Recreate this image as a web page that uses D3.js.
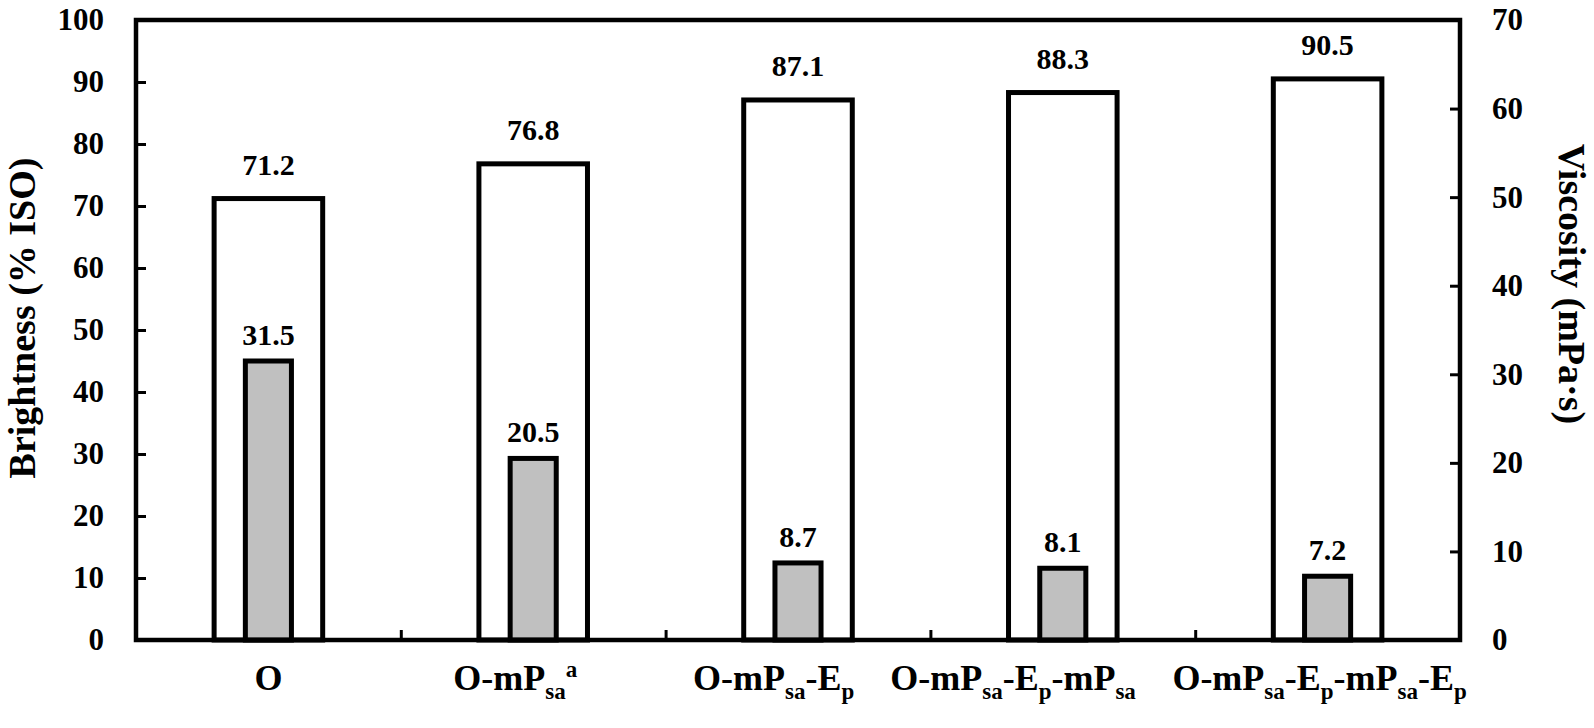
<!DOCTYPE html>
<html>
<head>
<meta charset="utf-8">
<script src="https://cdn.jsdelivr.net/npm/d3@7"></script>
<style>
  body { margin: 0; background: #fff; }
  svg { display: block; }
  text { font-family: "Liberation Serif", "Times New Roman", serif; font-weight: bold; fill: #000; }
</style>
</head>
<body>
<div id="chart"></div>
<script>
// data
var categories = ["O", "O-mP_sa^a", "O-mP_sa-E_p", "O-mP_sa-E_p-mP_sa", "O-mP_sa-E_p-mP_sa-E_p"];
var brightness = [71.2, 76.8, 87.1, 88.3, 90.5];   // left axis, white bars
var viscosity = [31.5, 20.5, 8.7, 8.1, 7.2];        // right axis, grey bars
var leftTicks = [0, 10, 20, 30, 40, 50, 60, 70, 80, 90, 100];
var rightTicks = [0, 10, 20, 30, 40, 50, 60, 70];

var width = 1594, height = 728;
var plotL = 136, plotR = 1460, plotT = 20, plotB = 640;

var svg = d3.select("#chart").append("svg")
    .attr("width", width)
    .attr("height", height);

var x = d3.scaleBand().domain(categories).range([plotL, plotR]).padding(0);
var xEdge = d3.scaleLinear().domain([0, categories.length]).range([plotL, plotR]);
var yL = d3.scaleLinear().domain([0, 100]).range([plotB, plotT]);
var yR = d3.scaleLinear().domain([0, 70]).range([plotB, plotT]);

var bw = x.bandwidth();
var wWhite = bw * 0.41, wGrey = bw * 0.174;

// white bars (brightness)
svg.append("g").selectAll("rect")
    .data(brightness)
    .enter().append("rect")
    .attr("x", function(d, i) { return x(categories[i]) + bw / 2 - wWhite / 2; })
    .attr("y", function(d) { return yL(d); })
    .attr("width", wWhite)
    .attr("height", function(d) { return yL(0) - yL(d); })
    .attr("fill", "#fff")
    .attr("stroke", "#000")
    .attr("stroke-width", 5);

// grey bars (viscosity)
svg.append("g").selectAll("rect")
    .data(viscosity)
    .enter().append("rect")
    .attr("x", function(d, i) { return x(categories[i]) + bw / 2 - wGrey / 2; })
    .attr("y", function(d) { return yR(d); })
    .attr("width", wGrey)
    .attr("height", function(d) { return yR(0) - yR(d); })
    .attr("fill", "#c0c0c0")
    .attr("stroke", "#000")
    .attr("stroke-width", 5);

// value labels
svg.append("g").selectAll("text")
    .data(brightness)
    .enter().append("text")
    .attr("x", function(d, i) { return x(categories[i]) + bw / 2; })
    .attr("y", function(d) { return yL(d) - 24; })
    .attr("text-anchor", "middle")
    .attr("font-size", "30px")
    .text(function(d) { return d.toFixed(1); });

svg.append("g").selectAll("text")
    .data(viscosity)
    .enter().append("text")
    .attr("x", function(d, i) { return x(categories[i]) + bw / 2; })
    .attr("y", function(d) { return yR(d) - 16; })
    .attr("text-anchor", "middle")
    .attr("font-size", "30px")
    .text(function(d) { return d.toFixed(1); });

// axes
var axL = svg.append("g")
    .attr("transform", "translate(" + plotL + ",0)")
    .call(d3.axisLeft(yL).tickValues(leftTicks).tickSize(-10).tickPadding(32));
var axR = svg.append("g")
    .attr("transform", "translate(" + plotR + ",0)")
    .call(d3.axisRight(yR).tickValues(rightTicks).tickSize(-10).tickPadding(32));
var axB = svg.append("g")
    .attr("transform", "translate(0," + plotB + ")")
    .call(d3.axisBottom(xEdge).tickValues(d3.range(0, categories.length + 1)).tickSize(-10).tickFormat(""));

[axL, axR, axB].forEach(function(ax) {
    ax.select(".domain").remove();
    ax.selectAll(".tick line").attr("stroke", "#000").attr("stroke-width", 3);
    ax.selectAll(".tick text")
        .attr("font-size", "31px")
        .attr("font-family", "Liberation Serif, Times New Roman, serif")
        .attr("font-weight", "bold")
        .attr("fill", "#000");
});

// plot frame
svg.append("rect")
    .attr("x", plotL).attr("y", plotT)
    .attr("width", plotR - plotL).attr("height", plotB - plotT)
    .attr("fill", "none")
    .attr("stroke", "#000")
    .attr("stroke-width", 4.5);

// category labels with sub/superscripts
function parseLabel(s) {
    var parts = [], re = /([_^])([A-Za-z0-9]+)|([^_^]+)/g, m;
    while ((m = re.exec(s)) !== null) {
        if (m[3]) parts.push({ t: m[3], k: "n" });
        else parts.push({ t: m[2], k: m[1] == "_" ? "sub" : "sup" });
    }
    return parts;
}

var labels = svg.append("g").selectAll("text")
    .data(categories)
    .enter().append("text")
    .attr("x", function(d, i) {
        var nudge = i == 0 ? 0 : (i == categories.length - 1 ? 8 : 18);
        return x(d) + bw / 2 - nudge;
    })
    .attr("y", 690)
    .attr("text-anchor", "middle")
    .attr("font-size", "36px");

labels.each(function(d) {
    var t = d3.select(this);
    var shift = 0;
    parseLabel(d).forEach(function(p) {
        var dy = 0;
        if (p.k == "sub") dy = 9 - shift;
        else if (p.k == "sup") dy = -13 - shift;
        else dy = -shift;
        shift += dy;
        t.append("tspan")
            .attr("dy", dy)
            .attr("font-size", p.k == "n" ? "36px" : "23px")
            .text(p.t);
    });
});

// push labels apart when they would collide
var nodes = labels.nodes();
for (var i = nodes.length - 2; i >= 0; i--) {
    var a = nodes[i].getBBox(), b = nodes[i + 1].getBBox();
    var over = a.x + a.width + 36 - b.x;
    if (over > 0) {
        var cx = +d3.select(nodes[i]).attr("x");
        d3.select(nodes[i]).attr("x", cx - over);
    }
}

// axis titles
svg.append("text")
    .attr("transform", "translate(22,318) rotate(-90)")
    .attr("text-anchor", "middle")
    .attr("dominant-baseline", "central")
    .attr("font-size", "38px")
    .text("Brightness (% ISO)");

svg.append("text")
    .attr("transform", "translate(1572,284) rotate(90)")
    .attr("text-anchor", "middle")
    .attr("dominant-baseline", "central")
    .attr("font-size", "38px")
    .text("Viscosity (mPa\u00b7s)");
</script>
</body>
</html>
